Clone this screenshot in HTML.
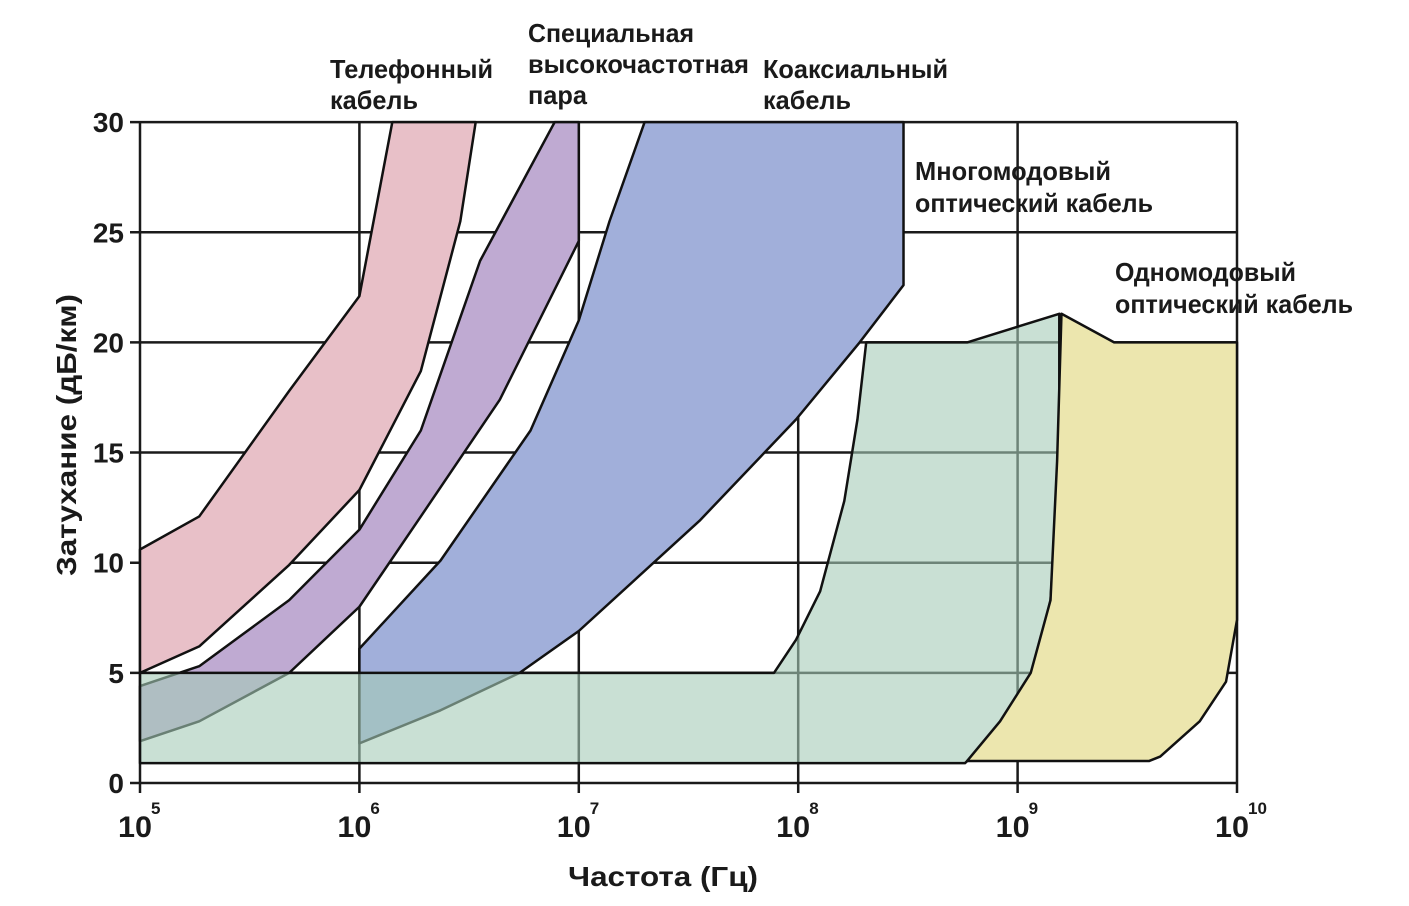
<!DOCTYPE html>
<html><head><meta charset="utf-8"><style>
body{margin:0;background:#fff}
text{font-family:"Liberation Sans Narrow","Liberation Sans",sans-serif;font-weight:bold;fill:#1a1a1a}
</style></head><body>
<svg id="chart" width="1409" height="901" xmlns="http://www.w3.org/2000/svg">
<g id="grid"></g>
<g id="bands"></g>
<g id="axes"></g>
<g id="labels">
<text x="330" y="78" font-size="26" textLength="163" lengthAdjust="spacingAndGlyphs">Телефонный</text>
<text x="330" y="109" font-size="26" textLength="88" lengthAdjust="spacingAndGlyphs">кабель</text>
<text x="528" y="42" font-size="26" textLength="166" lengthAdjust="spacingAndGlyphs">Специальная</text>
<text x="528" y="73" font-size="26" textLength="221" lengthAdjust="spacingAndGlyphs">высокочастотная</text>
<text x="528" y="104" font-size="26" textLength="59" lengthAdjust="spacingAndGlyphs">пара</text>
<text x="763" y="78" font-size="26" textLength="185" lengthAdjust="spacingAndGlyphs">Коаксиальный</text>
<text x="763" y="109" font-size="26" textLength="88" lengthAdjust="spacingAndGlyphs">кабель</text>
<text x="915" y="180" font-size="26" textLength="196" lengthAdjust="spacingAndGlyphs">Многомодовый</text>
<text x="915" y="212" font-size="26" textLength="238" lengthAdjust="spacingAndGlyphs">оптический кабель</text>
<text x="1115" y="281" font-size="26" textLength="181" lengthAdjust="spacingAndGlyphs">Одномодовый</text>
<text x="1115" y="313" font-size="26" textLength="238" lengthAdjust="spacingAndGlyphs">оптический кабель</text>
<text x="663" y="886" font-size="28" text-anchor="middle" textLength="190" lengthAdjust="spacingAndGlyphs">Частота (Гц)</text>
<text transform="translate(76,435) rotate(-90)" font-size="28" text-anchor="middle" textLength="282" lengthAdjust="spacingAndGlyphs">Затухание (дБ/км)</text>
</g>
</svg>
<script>
const xDecades=[5,6,7,8,9,10];
const yTicks=[0,5,10,15,20,25,30];
const telephone=[[5,10.6],[5.27,12.1],[5.68,17.8],[6,22.1],[6.15,30],[6.53,30],[6.46,25.5],[6.28,18.7],[6,13.3],[5.68,9.9],[5.27,6.2],[5,5]];
const hfPair=[[5,4.4],[5.27,5.3],[5.68,8.3],[6,11.5],[6.28,16],[6.55,23.7],[6.89,30],[7,30],[7,24.6],[6.64,17.4],[6.28,12.1],[6,8],[5.68,5],[5.27,2.8],[5,1.9]];
const coax=[[6,6.1],[6.37,10.1],[6.78,16],[7,21],[7.14,25.5],[7.3,30],[8.48,30],[8.48,22.6],[8.28,20],[7.99,16.5],[7.55,11.9],[7,6.9],[6.73,5],[6.37,3.3],[6,1.8]];
const multimode=[[5,0.9],[5,5],[7.89,5],[7.99,6.5],[8.1,8.7],[8.21,12.8],[8.27,16.5],[8.31,20],[8.77,20],[9.19,21.3],[9.19,14.6],[9.15,8.3],[9.06,4.6],[8.92,2.4],[8.76,0.9]];
const singlemode=[[8.77,1],[8.92,2.8],[9.06,5],[9.15,8.3],[9.18,14.6],[9.2,21.3],[9.44,20],[10,20],[10,7.4],[9.95,4.6],[9.83,2.8],[9.65,1.2],[9.6,1]];
const NS='http://www.w3.org/2000/svg';
const X=l=>140+(l-5)*219.4;
const Y=v=>783-v*22.03;
function mk(t,a,p){const e=document.createElementNS(NS,t);for(const k in a)e.setAttribute(k,a[k]);p.appendChild(e);return e;}
const grid=document.getElementById('grid'),axes=document.getElementById('axes'),bands=document.getElementById('bands');
xDecades.forEach(d=>{const l=mk('line',{x1:X(d),x2:X(d),y1:Y(30),y2:Y(0)+10,stroke:'#1a1a1a','stroke-width':2.5},grid);

const t=mk('text',{x:X(d)-22,y:837,'font-size':30,textLength:34,lengthAdjust:'spacingAndGlyphs'},axes);t.textContent='10';

const s=mk('text',{x:X(d)+11,y:814,'font-size':17},axes);s.textContent=String(d);
});
yTicks.forEach(v=>{const l=mk('line',{x1:X(5)-10,x2:X(10),y1:Y(v),y2:Y(v),stroke:'#1a1a1a','stroke-width':2.5},grid);

const t=mk('text',{x:X(5)-16,y:Y(v)+10,'font-size':28,'text-anchor':'end'},axes);t.textContent=String(v);
});
function band(pts,fill,op,name,stroke){const p=mk('polygon',{points:pts.map(q=>X(q[0])+','+Y(q[1])).join(' '),fill:fill,'fill-opacity':op,stroke:stroke,'stroke-width':2.5,'stroke-linejoin':'round'},bands);
}
band(telephone,'#e8c0c8',1,'band-telephone','#111');
band(hfPair,'#bfaad2',1,'band-hf-pair','#111');
band(coax,'#a1afda',1,'band-coax','#111');
band(multimode,'#a5cbb7',0.6,'band-multimode','#111');
band(singlemode,'#ece6ae',1,'band-singlemode','#111');
</script>
</body></html>
